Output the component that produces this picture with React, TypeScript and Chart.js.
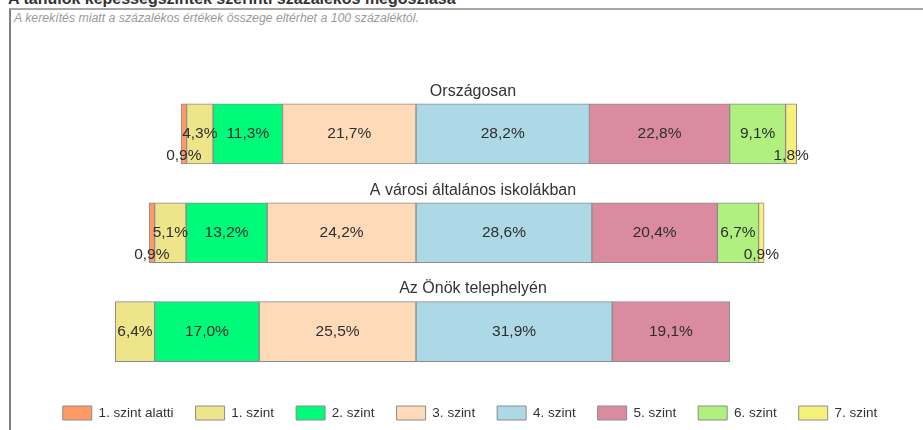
import React, { useEffect, useRef } from 'react';
import { Chart, registerables } from 'chart.js';

Chart.register(...registerables);

const categories = ['Országosan', 'A városi általános iskolákban', 'Az Önök telephelyén'];
const levelNames = ['1. szint alatti', '1. szint', '2. szint', '3. szint', '4. szint', '5. szint', '6. szint', '7. szint'];

const belowLevel1 = [0.9, 0.9, 0];
const level1 = [4.3, 5.1, 6.4];
const level2 = [11.3, 13.2, 17.0];
const level3 = [21.7, 24.2, 25.5];
const level4 = [28.2, 28.6, 31.9];
const level5 = [22.8, 20.4, 19.1];
const level6 = [9.1, 6.7, 0];
const level7 = [1.8, 0.9, 0];

const series = [belowLevel1, level1, level2, level3, level4, level5, level6, level7];
const levelColors = ['#FF9966', '#EEE48A', '#00FA7A', '#FFDAB9', '#ADD8E6', '#DB8BA0', '#AFF07E', '#F6F07C'];
const leftOfCenter = 4; // levels drawn to the left of the 3./4. boundary

const fmt = (v: number) => v.toFixed(1).replace('.', ',') + '%';

function buildRanges() {
  return series.map((vals, k) =>
    vals.map((_, i) => {
      let start = 0;
      for (let j = 0; j < leftOfCenter; j++) start -= series[j][i];
      for (let j = 0; j < k; j++) start += series[j][i];
      const v = series[k][i];
      return v > 0 ? [start, start + v] : null;
    })
  );
}

const labelPlugin = {
  id: 'labels',
  afterDatasetsDraw(chart: any) {
    const ctx = chart.ctx;
    const area = chart.chartArea;
    const yScale = chart.scales.y;
    ctx.save();
    ctx.textAlign = 'center';
    ctx.textBaseline = 'middle';
    ctx.fillStyle = '#333333';
    ctx.font = '16px Arial, "Liberation Sans", sans-serif';
    categories.forEach((c, i) => {
      const y = yScale.getPixelForValue(i);
      ctx.fillText(c, (area.left + area.right) / 2 + 3, y - 42.5);
    });
    ctx.fillStyle = '#2e2e2e';
    ctx.font = '15.5px Arial, "Liberation Sans", sans-serif';
    series.forEach((vals, d) => {
      const meta = chart.getDatasetMeta(d);
      meta.data.forEach((bar: any, i: number) => {
        const v = vals[i];
        if (!v) return;
        const p = bar.getProps(['x', 'y', 'base'], true);
        const cx = (p.x + p.base) / 2;
        const cy = v < 2 ? p.y + 22 : p.y;
        ctx.fillText(fmt(v), cx, cy);
      });
    });
    ctx.restore();
  },
};

export default function App() {
  const ref = useRef<HTMLCanvasElement>(null);
  useEffect(() => {
    if (!ref.current) return;
    const ranges = buildRanges();
    const chart = new Chart(ref.current, {
      type: 'bar',
      data: {
        labels: categories,
        datasets: levelNames.map((name, k) => ({
          label: name,
          data: ranges[k] as any,
          backgroundColor: levelColors[k],
          borderColor: '#8c8c8c',
          borderWidth: 1,
          borderSkipped: false,
          barThickness: 60,
        })),
      },
      options: {
        indexAxis: 'y',
        responsive: true,
        maintainAspectRatio: false,
        animation: false,
        layout: { padding: { left: 32, right: 15, top: 84.5, bottom: 0 } },
        scales: {
          x: { display: false, stacked: false, min: -62.44, max: 80 },
          y: { display: false, stacked: true },
        },
        plugins: {
          legend: {
            position: 'bottom',
            title: { display: true, text: '', font: { size: 1 }, padding: { top: 1.8, bottom: 0 } },
            labels: {
              boxWidth: 29,
              boxHeight: 14,
              padding: 22,
              color: '#333333',
              font: { family: 'Arial, "Liberation Sans", sans-serif', size: 13.5 },
            },
          },
          tooltip: { enabled: false },
        },
      } as any,
      plugins: [labelPlugin],
    });
    return () => chart.destroy();
  }, []);

  return (
    <div style={{ position: 'absolute', left: 0, top: 0, width: 923, height: 430, overflow: 'hidden', background: '#fff' }}>
      <div
        style={{
          position: 'absolute',
          left: 8,
          top: -9,
          font: 'bold 16px Arial, "Liberation Sans", sans-serif',
          lineHeight: '16px',
          color: '#333',
          whiteSpace: 'nowrap',
        }}
      >
        A tanulók képességszintek szerinti százalékos megoszlása
      </div>
      <div
        style={{
          position: 'absolute',
          left: 9,
          top: 8,
          width: 930,
          height: 440,
          borderTop: '2px solid #a6a6a6',
          borderLeft: '2px solid #808080',
        }}
      />
      <div
        style={{
          position: 'absolute',
          left: 14,
          top: 12,
          font: 'italic 12.3px Arial, "Liberation Sans", sans-serif',
          lineHeight: '13px',
          color: '#9a9a9a',
          whiteSpace: 'nowrap',
        }}
      >
        A kerekítés miatt a százalékos értékek összege eltérhet a 100 százaléktól.
      </div>
      <div style={{ position: 'absolute', left: 0, top: 0, width: 923, height: 430 }}>
        <canvas ref={ref} />
      </div>
    </div>
  );
}
